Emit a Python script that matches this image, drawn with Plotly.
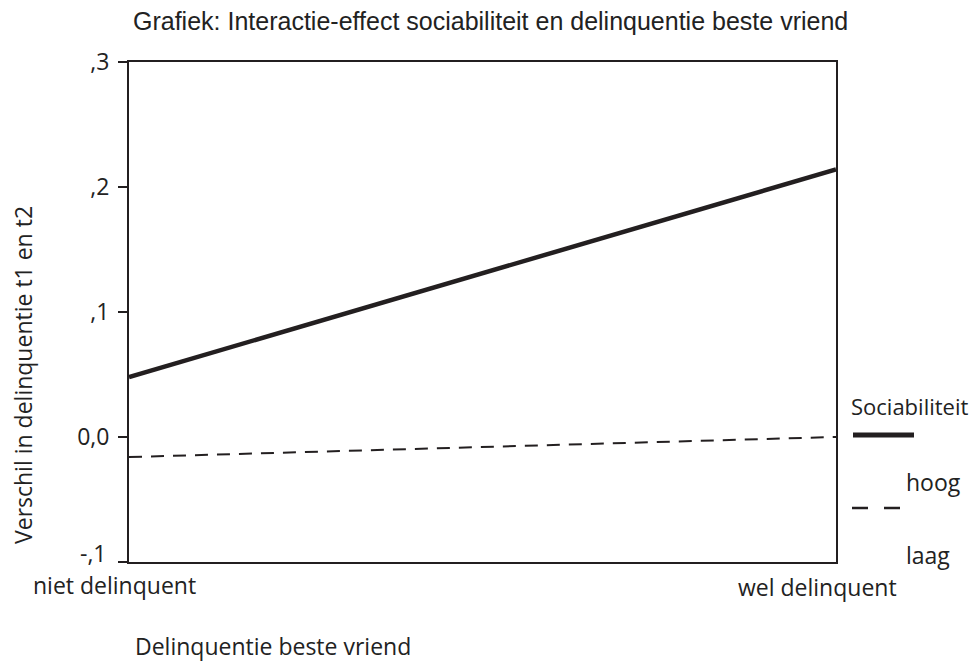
import plotly.graph_objects as go

x_vals = [0, 1]
x_labels = ["niet delinquent", "wel delinquent"]
hoog = [0.048, 0.214]
laag = [-0.016, 0.0]
y_ticks = [-0.1, 0.0, 0.1, 0.2, 0.3]
y_ticklabels = ["-,1", "0,0", ",1", ",2", ",3"]

INK = "#231f20"
TXT = "#222222"
FONT = "Open Sans"
TFONT = "Liberation Sans"

OFF = 8  # body margin of the html page
FW, FH = 980 - 2 * OFF, 669 - 2 * OFF
# plot box in screen pixels
L, R, T, B = 129, 836, 62, 562
W, H = R - L, B - T


def px(sx):
    return (sx - L) / W


def py(sy):
    return (B - sy) / H


fig = go.Figure()
fig.add_trace(go.Scatter(x=x_vals, y=hoog, mode="lines",
                         line=dict(color=INK, width=4.5), name="hoog", showlegend=False))
fig.add_trace(go.Scatter(x=x_vals, y=laag, mode="lines",
                         line=dict(color=INK, width=2, dash="13px,9px"), name="laag", showlegend=False))

# the lowest tick label sits a bit above its tick in the reference -> drawn as annotation
axis_ticktext = [""] + y_ticklabels[1:]

fig.update_xaxes(range=[0, 1], showgrid=False, zeroline=False, showticklabels=False,
                 showline=True, linecolor=INK, linewidth=2, mirror=True, ticks="")
fig.update_yaxes(range=[-0.1, 0.3], showgrid=False, zeroline=False,
                 tickvals=y_ticks, ticktext=axis_ticktext, ticks="outside", ticklen=9,
                 tickwidth=2, tickcolor=INK, showline=True, linecolor=INK, linewidth=2, mirror=True,
                 ticklabelstandoff=4,
                 tickfont=dict(family=FONT, size=23, color=TXT))

annotations = []
annotations.append(dict(x=0, y=y_ticks[0], xref="paper", yref="y", text=y_ticklabels[0],
                        showarrow=False, xanchor="right", yanchor="middle",
                        xshift=-(L - 109), yshift=9,
                        font=dict(family=FONT, size=23, color=TXT)))
for xv, lab, sx, sy in zip(x_vals, x_labels, [114, 817], [585, 587]):
    annotations.append(dict(x=xv, y=0, xref="x", yref="paper", text=lab, showarrow=False,
                            xanchor="center", yanchor="middle",
                            xshift=sx - (L + xv * W), yshift=-(sy - B),
                            font=dict(family=FONT, size=23, color=TXT)))

ann_px = [
    ("Delinquentie beste vriend", 133, 646, FONT, 23, "left"),
    ("Grafiek: Interactie-effect sociabiliteit en delinquentie beste vriend", 131, 21, TFONT, 25, "left"),
    ("Sociabiliteit", 849, 406, FONT, 22, "left"),
    ("hoog", 904, 482, FONT, 23, "left"),
    ("laag", 904, 555, FONT, 23, "left"),
]
for text, sx, sy, fam, size, anc in ann_px:
    annotations.append(dict(x=px(sx), y=py(sy), xref="paper", yref="paper",
                            text=text, showarrow=False, xanchor=anc, yanchor="middle",
                            font=dict(family=fam, size=size, color=TXT)))

# y-axis title
annotations.append(dict(x=px(23), y=py(375), xref="paper", yref="paper",
                        text="Verschil in delinquentie t1 en t2", showarrow=False, textangle=-90,
                        xanchor="center", yanchor="middle",
                        font=dict(family=FONT, size=23, color=TXT)))

shapes = [
    dict(type="line", xref="paper", yref="paper", x0=px(853), x1=px(914),
         y0=py(435), y1=py(435), line=dict(color=INK, width=5)),
    dict(type="line", xref="paper", yref="paper", x0=px(852), x1=px(900),
         y0=py(508), y1=py(508), line=dict(color=INK, width=2.5, dash="16px,16px")),
]

fig.update_layout(width=FW, height=FH,
                  margin=dict(l=L - OFF, r=(980 - OFF) - R, t=T - OFF, b=(669 - OFF) - B),
                  plot_bgcolor="white", paper_bgcolor="white",
                  annotations=annotations, shapes=shapes)
fig.write_html("out.html")
